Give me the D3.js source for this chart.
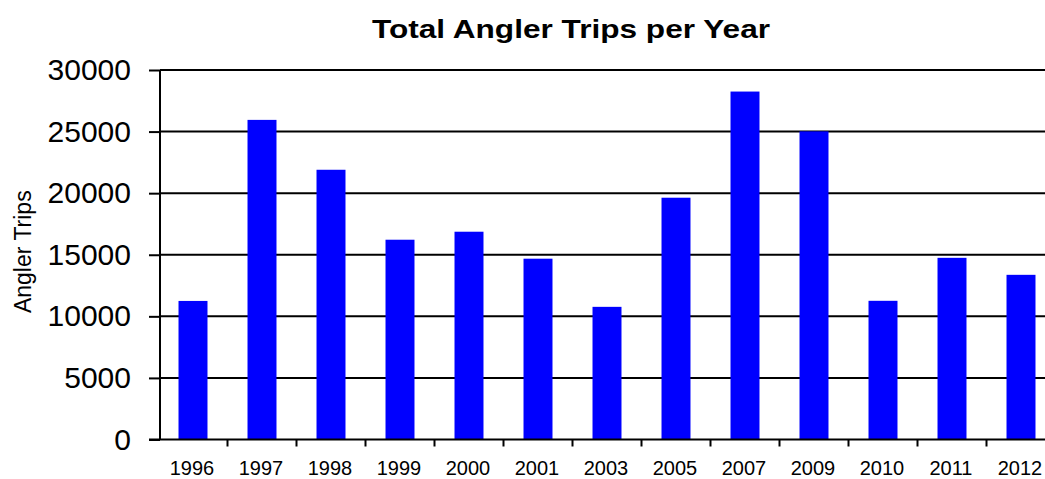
<!DOCTYPE html>
<html>
<head>
<meta charset="utf-8">
<script src="https://cdn.jsdelivr.net/npm/d3@7"></script>
<style>
  html, body { margin: 0; padding: 0; background: #fff; }
  svg { display: block; font-family: "Liberation Sans", Arial, sans-serif; }
</style>
</head>
<body>
<svg id="chart" width="1045" height="479"></svg>
<script>
const years = ["1996","1997","1998","1999","2000","2001","2003","2005","2007","2009","2010","2011","2012"];
const trips = [11250, 25950, 21900, 16220, 16870, 14680, 10770, 19630, 28250, 25020, 11260, 14750, 13370];
const yTicks = [0, 5000, 10000, 15000, 20000, 25000, 30000];
const titleText = "Total Angler Trips per Year";
const yLabel = "Angler Trips";

(function () {
const svg = d3.select("#chart");
const W = 1045;
const pLeft = 158.5, pRight = 1055.5, pTop = 70, pBottom = 439.5;
const axisX = 160;

const x = d3.scaleBand().domain(years).range([pLeft, pRight]).paddingInner(0.58).paddingOuter(0.29);
const y = d3.scaleLinear().domain([0, 30000]).range([pBottom, pTop]);

// gridlines
svg.append("g")
  .selectAll("line").data(yTicks.filter(d => d > 0)).join("line")
  .attr("x1", axisX).attr("x2", W)
  .attr("y1", d => y(d)).attr("y2", d => y(d))
  .attr("stroke", "#000").attr("stroke-width", 2);

// bars
svg.append("g")
  .selectAll("rect").data(years).join("rect")
  .attr("x", (d) => x(d))
  .attr("width", x.bandwidth())
  .attr("y", (d, i) => y(trips[i]))
  .attr("height", (d, i) => y(0) - y(trips[i]))
  .attr("fill", "#0000FF");

// y axis
const yAxis = svg.append("g")
  .attr("transform", `translate(${axisX},0)`)
  .call(d3.axisLeft(y).tickValues(yTicks).tickSize(11).tickPadding(18).tickFormat(d3.format("d")));
yAxis.select(".domain").attr("stroke", "#000").attr("stroke-width", 2).attr("d", `M0,${pTop}V${pBottom}`);
yAxis.selectAll(".tick line").attr("stroke", "#000").attr("stroke-width", 2);
yAxis.selectAll(".tick text")
  .attr("font-size", 30).attr("fill", "#000")
  .attr("font-family", "'Liberation Sans', Arial, sans-serif");

// x axis with ticks at category boundaries
const step = x.step();
const xAxis = svg.append("g").attr("transform", `translate(0,${pBottom})`);
xAxis.append("line")
  .attr("x1", 149).attr("x2", W).attr("y1", 0).attr("y2", 0)
  .attr("stroke", "#000").attr("stroke-width", 2);
xAxis.selectAll("line.tk").data(years.slice(0, -1)).join("line")
  .attr("class", "tk")
  .attr("x1", d => x(d) + x.bandwidth() / 2 + step / 2)
  .attr("x2", d => x(d) + x.bandwidth() / 2 + step / 2)
  .attr("y1", 0).attr("y2", 7)
  .attr("stroke", "#000").attr("stroke-width", 2);
xAxis.selectAll("text").data(years).join("text")
  .attr("x", d => x(d) + x.bandwidth() / 2 - 1)
  .attr("y", 35.3)
  .attr("text-anchor", "middle")
  .attr("font-size", 20)
  .attr("fill", "#000")
  .text(d => d);

// y label
svg.append("text")
  .attr("transform", "translate(31,251.7) rotate(-90)")
  .attr("text-anchor", "middle")
  .attr("font-size", 23)
  .attr("fill", "#000")
  .text(yLabel);

// title
svg.append("text")
  .attr("x", 571).attr("y", 38.3)
  .attr("text-anchor", "middle")
  .attr("font-size", 25)
  .attr("font-weight", "bold")
  .attr("fill", "#000")
  .attr("textLength", 398)
  .attr("lengthAdjust", "spacingAndGlyphs")
  .text(titleText);
})();
</script>
</body>
</html>
